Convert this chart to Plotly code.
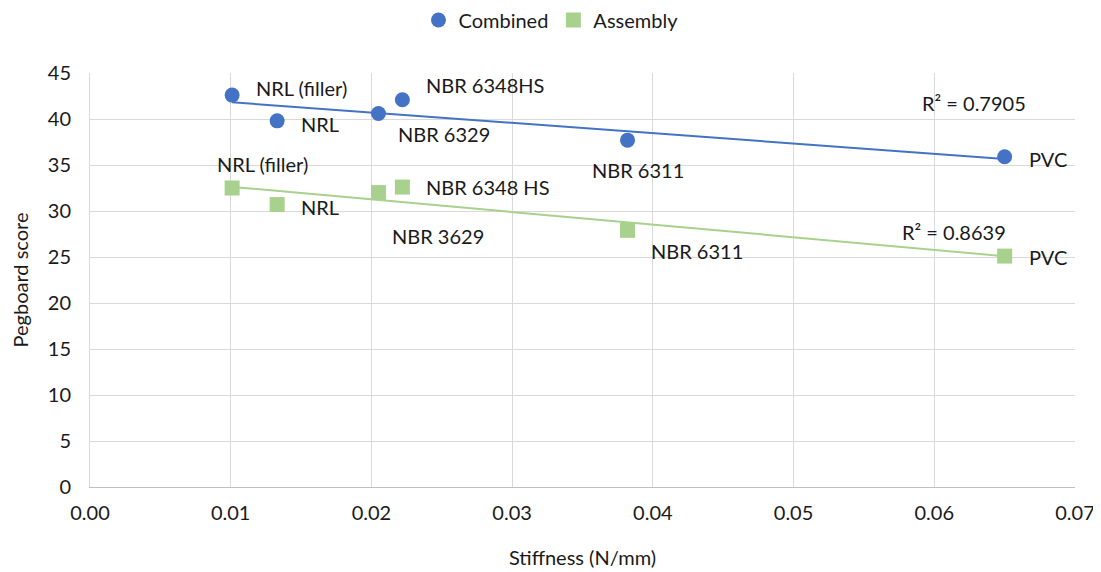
import numpy as np
import plotly.graph_objects as go

# ---- data ----
names_combined = ["NRL (filler)", "NRL", "NBR 6329", "NBR 6348HS", "NBR 6311", "PVC"]
x_combined = [0.0101, 0.0133, 0.0205, 0.0222, 0.0382, 0.0650]
y_combined = [42.6, 39.8, 40.6, 42.1, 37.7, 35.9]

names_assembly = ["NRL (filler)", "NRL", "NBR 3629", "NBR 6348 HS", "NBR 6311", "PVC"]
x_assembly = [0.0101, 0.0133, 0.0205, 0.0222, 0.0382, 0.0650]
y_assembly = [32.5, 30.7, 32.0, 32.6, 27.9, 25.1]

r2_labels = ["R² = 0.7905", "R² = 0.8639"]

x_ticks = [0.00, 0.01, 0.02, 0.03, 0.04, 0.05, 0.06, 0.07]
y_ticks = [0, 5, 10, 15, 20, 25, 30, 35, 40, 45]

BLUE = "#4472C4"
GREEN = "#A9D18E"
FONT = "Lato, Carlito, 'Open Sans', sans-serif"
TXT = "#1a1a1a"
FS = 20

fig = go.Figure()

def trend(xs, ys):
    k, b = np.polyfit(xs, ys, 1)
    xx = np.array([min(xs), max(xs)])
    return xx, k * xx + b

tx, ty = trend(x_combined, y_combined)
fig.add_trace(go.Scatter(x=tx, y=ty, mode="lines", line=dict(color=BLUE, width=2),
                         showlegend=False, hoverinfo="skip"))
tx2, ty2 = trend(x_assembly, y_assembly)
fig.add_trace(go.Scatter(x=tx2, y=ty2, mode="lines", line=dict(color=GREEN, width=2),
                         showlegend=False, hoverinfo="skip"))

fig.add_trace(go.Scatter(x=x_combined, y=y_combined, mode="markers", name="Combined",
                         marker=dict(symbol="circle", size=15, color=BLUE)))
fig.add_trace(go.Scatter(x=x_assembly, y=y_assembly, mode="markers", name="Assembly",
                         marker=dict(symbol="square", size=15, color=GREEN)))

# label offsets in pixels (xshift, yshift)
off_combined = [(22, 7), (22, -3), (18, -21), (22, 15), (-38, -30), (22, -2)]
off_assembly = [(-17, 24), (22, -2), (12, -43), (22, 0), (21, -21), (22, -1)]

for xs, ys, ns, offs in [(x_combined, y_combined, names_combined, off_combined),
                         (x_assembly, y_assembly, names_assembly, off_assembly)]:
    for x, y, n, (dx, dy) in zip(xs, ys, ns, offs):
        fig.add_annotation(x=x, y=y, text=n, showarrow=False, xanchor="left", yanchor="middle",
                           xshift=dx, yshift=dy, font=dict(family=FONT, size=FS, color=TXT))

fig.add_annotation(x=0.0628, y=41.75, text=r2_labels[0], showarrow=False, xanchor="center",
                   yanchor="middle", font=dict(family=FONT, size=FS, color=TXT))
fig.add_annotation(x=0.0614, y=27.75, text=r2_labels[1], showarrow=False, xanchor="center",
                   yanchor="middle", font=dict(family=FONT, size=FS, color=TXT))

fig.update_layout(
    width=1101, height=572,
    margin=dict(l=82, r=34, t=65, b=93, autoexpand=False),
    paper_bgcolor="white", plot_bgcolor="white",
    font=dict(family=FONT, size=FS, color=TXT),
    legend=dict(orientation="h", x=0.468, xanchor="center", y=1.128, yanchor="middle",
                xref="paper", yref="paper", bgcolor="rgba(0,0,0,0)",
                font=dict(family=FONT, size=FS, color=TXT), itemwidth=30,
                tracegroupgap=0),
    xaxis=dict(range=[0, 0.07], tickvals=x_ticks, tickformat=".2f", automargin=False,
               showgrid=True, gridcolor="#D9D9D9", gridwidth=1,
               showline=True, linecolor="#BFBFBF", linewidth=1, zeroline=False,
               ticks="outside", ticklen=8, tickcolor="rgba(0,0,0,0)",
               title=dict(text="Stiffness (N/mm)", font=dict(family=FONT, size=FS, color=TXT),
                          standoff=27),
               tickfont=dict(family=FONT, size=FS, color=TXT)),
    yaxis=dict(range=[0, 45], tickvals=y_ticks, automargin=False,
               showgrid=True, gridcolor="#D9D9D9", gridwidth=1,
               showline=True, linecolor="#D9D9D9", linewidth=1, zeroline=False,
               ticks="outside", ticklen=14, tickcolor="rgba(0,0,0,0)",
               title=dict(text="Pegboard score", font=dict(family=FONT, size=FS, color=TXT),
                          standoff=14),
               tickfont=dict(family=FONT, size=FS, color=TXT)),
)

fig.write_html("out.html")
